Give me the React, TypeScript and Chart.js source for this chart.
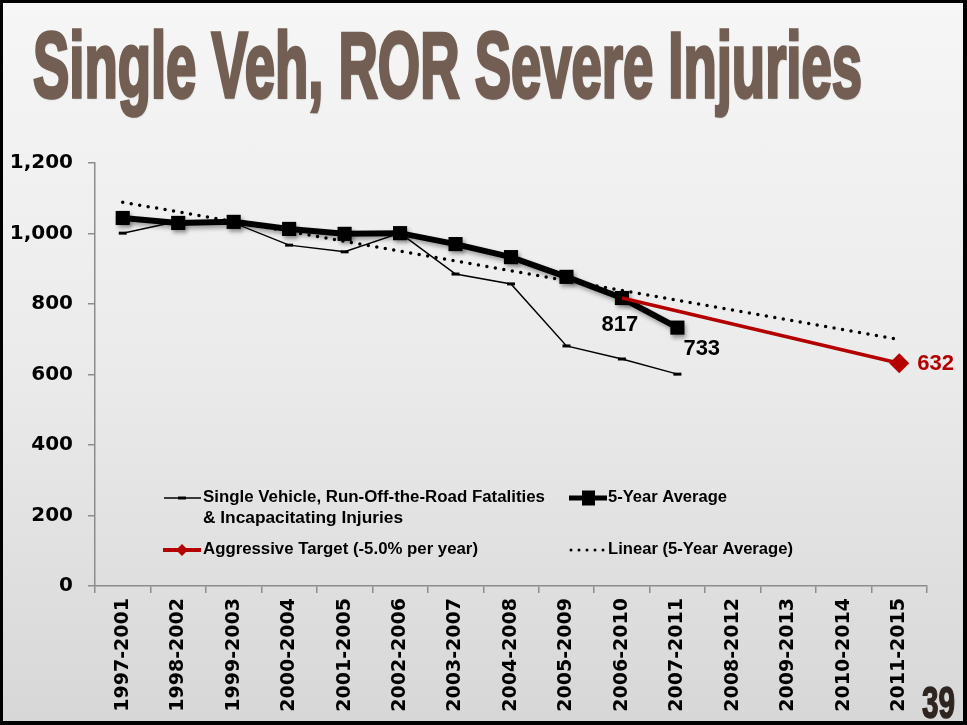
import React, { useEffect, useLayoutEffect, useRef, useState } from 'react';
import { Chart, registerables } from 'chart.js';

Chart.register(...registerables);

// ---------- data ----------
const periods = [
  '1997-2001', '1998-2002', '1999-2003', '2000-2004', '2001-2005',
  '2002-2006', '2003-2007', '2004-2008', '2005-2009', '2006-2010',
  '2007-2011', '2008-2012', '2009-2013', '2010-2014', '2011-2015',
];
const fatalInjuries = [1001, 1035, 1030, 967, 948, 1001, 885, 857, 681, 644, 601, null, null, null, null];
const fiveYearAverage = [1044, 1030, 1033, 1013, 999, 1001, 970, 933, 877, 817, 733, null, null, null, null];
const aggressiveTarget = [null, null, null, null, null, null, null, null, null, 817, null, null, null, null, 632];
const linearTrend = [1089, null, null, null, null, null, null, null, null, null, null, null, null, null, 699];
const yAxisMin = 0;
const yAxisMax = 1200;
const yAxisStep = 200;

const titleText = 'Single Veh, ROR Severe Injuries';
const pageNumber = '39';
const seriesNames = [
  'Single Vehicle, Run-Off-the-Road Fatalities',
  '& Incapacitating Injuries',
  '5-Year Average',
  'Aggressive Target (-5.0% per year)',
  'Linear (5-Year Average)',
];

const RED = '#b40000';
const W = 967;
const H = 725;
const NARROW = '"Liberation Sans Narrow", "Liberation Sans", Arial, sans-serif';

function fitText(ctx: CanvasRenderingContext2D, text: string, x: number, y: number, width: number) {
  const w = ctx.measureText(text).width;
  ctx.save();
  ctx.translate(x, y);
  ctx.scale(width / w, 1);
  ctx.fillText(text, 0, 0);
  ctx.restore();
}

const annotPlugin = {
  id: 'annot',
  beforeDatasetDraw(chart: any, args: any) {
    if (args.index === 1) {
      const c = chart.ctx;
      c.save();
      c.shadowColor = 'rgba(0,0,0,0.35)';
      c.shadowBlur = 4;
      c.shadowOffsetX = 2;
      c.shadowOffsetY = 3;
    }
  },
  afterDatasetDraw(chart: any, args: any) {
    if (args.index === 1) chart.ctx.restore();
  },
  afterDatasetsDraw(chart: any) {
    const ctx: CanvasRenderingContext2D = chart.ctx;
    const avg = chart.getDatasetMeta(1).data;
    const tgt = chart.getDatasetMeta(2).data;
    ctx.save();
    // value labels
    ctx.font = 'bold 22px "Liberation Sans", Arial, sans-serif';
    ctx.textBaseline = 'alphabetic';
    ctx.fillStyle = '#000';
    ctx.textAlign = 'center';
    ctx.fillText(String(fiveYearAverage[9]), avg[9].x - 2, avg[9].y + 33);
    ctx.textAlign = 'left';
    ctx.fillText(String(fiveYearAverage[10]), avg[10].x + 6, avg[10].y + 27);
    ctx.fillStyle = RED;
    ctx.textBaseline = 'middle';
    ctx.fillText(String(aggressiveTarget[14]), tgt[14].x + 18, tgt[14].y + 1);

    // legend
    ctx.fillStyle = '#000';
    ctx.font = 'bold 16px ' + NARROW;
    ctx.textBaseline = 'middle';
    ctx.textAlign = 'left';
    fitText(ctx, seriesNames[0], 203, 498, 342);
    fitText(ctx, seriesNames[1], 203, 519, 200);
    fitText(ctx, seriesNames[2], 608, 498, 119);
    fitText(ctx, seriesNames[3], 203, 550, 275);
    fitText(ctx, seriesNames[4], 608, 550, 185);

    // sample 1: thin line with dash marker
    ctx.strokeStyle = '#000';
    ctx.lineWidth = 1.5;
    ctx.beginPath(); ctx.moveTo(164, 498); ctx.lineTo(201, 498); ctx.stroke();
    ctx.fillRect(178, 496.5, 8, 3);
    // sample 2: thick line with square
    ctx.lineWidth = 5;
    ctx.beginPath(); ctx.moveTo(569, 498); ctx.lineTo(607, 498); ctx.stroke();
    ctx.fillRect(582, 490.5, 13, 15);
    // sample 3: red line with diamond
    ctx.strokeStyle = RED;
    ctx.fillStyle = RED;
    ctx.lineWidth = 4;
    ctx.beginPath(); ctx.moveTo(163, 550); ctx.lineTo(201, 550); ctx.stroke();
    ctx.beginPath();
    ctx.moveTo(182, 544); ctx.lineTo(188, 550); ctx.lineTo(182, 556); ctx.lineTo(176, 550); ctx.closePath();
    ctx.fill();
    // sample 4: dotted
    ctx.strokeStyle = '#000';
    ctx.lineWidth = 3;
    ctx.lineCap = 'round';
    ctx.setLineDash([0, 8]);
    ctx.beginPath(); ctx.moveTo(571, 550); ctx.lineTo(604, 550); ctx.stroke();
    ctx.restore();
  },
};

function ChartCanvas() {
  const ref = useRef<HTMLCanvasElement>(null);
  useEffect(() => {
    if (!ref.current) return;
    const chart = new Chart(ref.current, {
      type: 'line',
      data: {
        labels: periods,
        datasets: [
          {
            label: seriesNames[0] + ' ' + seriesNames[1],
            data: fatalInjuries,
            borderColor: '#000',
            backgroundColor: '#000',
            borderWidth: 1.5,
            pointStyle: 'line',
            pointRadius: 4,
            pointBorderWidth: 3,
            pointBorderColor: '#000',
            order: 3,
          },
          {
            label: seriesNames[2],
            data: fiveYearAverage,
            borderColor: '#000',
            backgroundColor: '#000',
            borderWidth: 6,
            pointStyle: 'rect',
            pointRadius: 10,
            pointBorderWidth: 0,
            order: 1,
          },
          {
            label: seriesNames[3],
            data: aggressiveTarget,
            borderColor: RED,
            backgroundColor: RED,
            borderWidth: 3.5,
            spanGaps: true,
            pointStyle: 'rectRot',
            pointRadius: aggressiveTarget.map((v, i) => (i === aggressiveTarget.length - 1 ? 10 : 0)),
            pointBorderWidth: 0,
            order: 0,
          },
          {
            label: seriesNames[4],
            data: linearTrend,
            borderColor: '#000',
            borderWidth: 3.5,
            borderDash: [0, 8.6],
            borderCapStyle: 'round',
            spanGaps: true,
            pointRadius: 0,
            order: 2,
          },
        ],
      },
      options: {
        responsive: false,
        animation: false,
        clip: false,
        layout: { padding: { left: 8, top: 163, right: 40, bottom: 8 }, autoPadding: false },
        plugins: { legend: { display: false }, tooltip: { enabled: false }, title: { display: false } },
        scales: {
          x: {
            offset: true,
            grid: { offset: true, drawOnChartArea: false, drawTicks: true, tickLength: 7, color: '#8c8c8c', lineWidth: 1.5 },
            border: { color: '#8c8c8c', width: 1.5 },
            ticks: {
              autoSkip: false,
              minRotation: 90,
              maxRotation: 90,
              padding: 5,
              color: '#000',
              font: { family: '"DejaVu Sans", sans-serif', weight: 'bold', size: 19 },
            },
            afterFit: (s: any) => { s.height = H - 586 - 8; },
          },
          y: {
            min: yAxisMin,
            max: yAxisMax,
            grid: { drawOnChartArea: false, drawTicks: true, tickLength: 7, color: '#8c8c8c', lineWidth: 1.5 },
            border: { color: '#8c8c8c', width: 1.5 },
            ticks: {
              stepSize: yAxisStep,
              padding: 15,
              color: '#000',
              font: { family: '"DejaVu Sans", sans-serif', weight: 'bold', size: 20 },
              callback: (v: any) => Number(v).toLocaleString('en-US'),
            },
            afterFit: (s: any) => { s.width = 95 - 8; },
          },
        },
      } as any,
      plugins: [annotPlugin],
    });
    return () => chart.destroy();
  }, []);
  return <canvas ref={ref} width={W} height={H} style={{ position: 'absolute', left: 0, top: 0, width: W, height: H }} />;
}

function FitSpan({ text, width, style }: { text: string; width: number; style: React.CSSProperties }) {
  const ref = useRef<HTMLSpanElement>(null);
  const [sx, setSx] = useState(1);
  useLayoutEffect(() => {
    if (ref.current) setSx(width / ref.current.offsetWidth);
  }, [text, width]);
  return (
    <span
      ref={ref}
      style={{ ...style, position: 'absolute', whiteSpace: 'nowrap', display: 'inline-block', transformOrigin: 'left top', transform: `scaleX(${sx})` }}
    >
      {text}
    </span>
  );
}

export default function App() {
  useEffect(() => {
    document.body.style.margin = '0';
  }, []);
  return (
    <div style={{ position: 'fixed', left: 0, top: 0, width: W, height: H, overflow: 'hidden', background: 'linear-gradient(to bottom, #f6f6f6 0%, #ebebeb 50%, #d7d7d7 100%)' }}>
      <FitSpan
        text={titleText}
        width={829}
        style={{ left: 33, top: 19, fontFamily: NARROW, fontWeight: 'bold', fontSize: 92, lineHeight: '92px', color: '#735e53', WebkitTextStroke: '3.5px #735e53', textShadow: '1px 2px 2px rgba(0,0,0,0.25)' }}
      />
      <ChartCanvas />
      <FitSpan
        text={pageNumber}
        width={33}
        style={{ left: 922, top: 681, fontFamily: NARROW, fontWeight: 'bold', fontSize: 44, lineHeight: '44px', color: '#2f2520', WebkitTextStroke: '1.5px #2f2520' }}
      />
      <div style={{ position: 'absolute', left: 0, top: 0, width: W, height: H, boxSizing: 'border-box', borderStyle: 'solid', borderColor: '#000', borderWidth: '3px 4px 4px 3px', pointerEvents: 'none' }} />
    </div>
  );
}
